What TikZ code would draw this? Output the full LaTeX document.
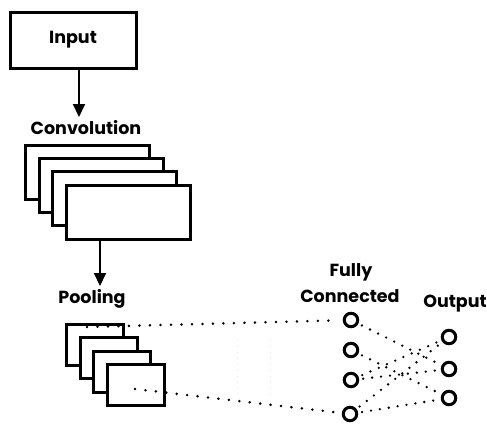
\documentclass[tikz,border=0pt]{standalone}
\usepackage{fontspec}
\setmainfont{Poppins}
\usetikzlibrary{arrows.meta}
\begin{document}
\begin{tikzpicture}[x=1pt,y=-1pt,
  lbl/.style={font=\bfseries\fontsize{17.5}{19}\selectfont, inner sep=0pt},
  box/.style={draw=black, fill=white, line width=3pt, inner sep=0pt},
  flow/.style={line width=2pt, -{Triangle[width=12pt,length=13pt]}},
  unit/.style={circle, draw=black, fill=white, line width=3pt, minimum size=13.5pt, inner sep=0pt},
  link/.style={line width=2.8pt, line cap=round, dash pattern=on 0pt off 10.5pt, shorten <=4pt, shorten >=4pt},
  mesh/.style={link, line width=2.6pt, dash pattern=on 0pt off 9pt},
  faint/.style={line width=0.6pt, draw=black!10, dash pattern=on 1pt off 5pt}]
\useasboundingbox (0,0) rectangle (487,423);
\fill[white] (0,0) rectangle (487,423);

% input block
\node[box, minimum width=126pt, minimum height=56pt] (in) at (73,40) {};
\node[lbl] at (in) {Input};

% convolution stack
\node[lbl] (convlbl) at (86,128) {Convolution};
\foreach \i/\nm in {0/c1,1/c2,2/c3,3/c4}
  \node[box, anchor=north west, minimum width=124pt, minimum height=54pt]
    (\nm) at ({24+13.7*\i},{144+13.2*\i}) {};

% pooling stack
\node[lbl] (poollbl) at (92,299) {Pooling};
\foreach \i/\nm in {0/p1,1/p2,2/p3,3/p4}
  \node[box, anchor=north west, minimum width=57pt, minimum height=41pt]
    (\nm) at ({65+13.7*\i},{323+13.4*\i}) {};

\coordinate (inarrow) at (79,117);
\draw[flow] (in.south -| inarrow) -- (inarrow);
\coordinate (convarrow) at (100,286);
\draw[flow] (c4.south -| convarrow) -- (convarrow);

% faint guides
\draw[faint] (237,340) -- (237,398);
\draw[faint] (270,340) -- (270,398);

% fully connected and output units
\node[lbl] (fclbl1) at (351,272) {Fully};
\node[lbl] (fclbl2) at (350,296) {Connected};
\node[lbl] (outlbl) at (455,304) {Output};

\node[unit] (f1) at (351,320) {};
\node[unit] (f2) at (351,350) {};
\node[unit] (f3) at (351,380) {};
\node[unit] (f4) at (350,414) {};
\node[unit] (o1) at (449,337) {};
\node[unit] (o2) at (449,369) {};
\node[unit] (o3) at (449,398) {};

% dotted connections
\coordinate (ptop) at (87,327);
\coordinate (pbot) at (135,389);
\draw[link, shorten <=0pt] (ptop) -- (f1);
\draw[link, shorten <=0pt] (pbot) -- (f4);
\draw[mesh] (f1) -- (o2);
\draw[mesh] (f2) -- (o3);
\draw[mesh] (f3) -- (o1);
\draw[mesh] (f3) -- (o2);
\draw[mesh] (f4) -- (o1);
\draw[mesh] (f4) -- (o3);
\end{tikzpicture}
\end{document}
